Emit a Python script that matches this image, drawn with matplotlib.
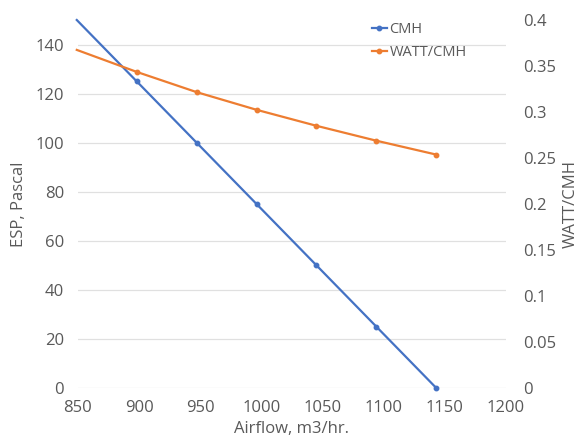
import matplotlib
matplotlib.use("Agg")
import matplotlib.pyplot as plt

airflow = [849, 898, 947, 996, 1045, 1094, 1143]
esp = [150, 125, 100, 75, 50, 25, 0]
watt_per_cmh = [0.3675, 0.3436, 0.3216, 0.3024, 0.2850, 0.2688, 0.2537]

x_ticks = [850, 900, 950, 1000, 1050, 1100, 1150, 1200]
left_ticks = [0, 20, 40, 60, 80, 100, 120, 140]
right_ticks = [0, 0.05, 0.1, 0.15, 0.2, 0.25, 0.3, 0.35, 0.4]
right_labels = ["0", "0.05", "0.1", "0.15", "0.2", "0.25", "0.3", "0.35", "0.4"]

plt.rcParams['font.family'] = ['Open Sans', 'DejaVu Sans']
txt = '#595959'
blue = '#4472C4'
orange = '#ED7D31'

fig = plt.figure(figsize=(5.8, 4.46), dpi=100)
ax = fig.add_axes([78/580, 1-388/446, (506-78)/580, (388-20)/446])
ax2 = ax.twinx()

l1, = ax.plot(airflow, esp, color=blue, lw=1.6, marker='o', ms=3.2,
              markevery=list(range(1, len(airflow))), label='CMH', clip_on=False)
l2, = ax2.plot(airflow, watt_per_cmh, color=orange, lw=1.6, marker='o', ms=3.2,
               markevery=list(range(1, len(airflow))), label='WATT/CMH', clip_on=False)

ax.set_xlim(850, 1200)
ax.set_ylim(0, 150)
ax2.set_ylim(0, 0.4)
ax.set_xticks(x_ticks)
ax.set_yticks(left_ticks)
ax2.set_yticks(right_ticks)
ax2.set_yticklabels(right_labels)

ax.grid(axis='y', color='#E0E0E0', lw=0.9)
ax.set_axisbelow(True)
for a in (ax, ax2):
    for s in a.spines.values():
        s.set_visible(False)
    a.tick_params(length=0, labelsize=12, colors=txt)
ax.tick_params(axis='x', pad=9)
ax.tick_params(axis='y', pad=10)
ax2.tick_params(axis='y', pad=12)

ax.set_xlabel('Airflow, m3/hr.', fontsize=12, color=txt, labelpad=3)
ax.set_ylabel('ESP, Pascal', fontsize=12, color=txt, labelpad=6)
ax2.set_ylabel('WATT/CMH', fontsize=12, color=txt, labelpad=5)

leg = fig.legend(handles=[l1, l2], loc='upper left',
                 bbox_to_anchor=(372/580, 1-22/446), frameon=False,
                 fontsize=10.5, handlelength=1.0, handletextpad=0.2,
                 labelspacing=0.55, borderaxespad=0, borderpad=0)
for t in leg.get_texts():
    t.set_color(txt)

fig.savefig('out.png', dpi=100)
